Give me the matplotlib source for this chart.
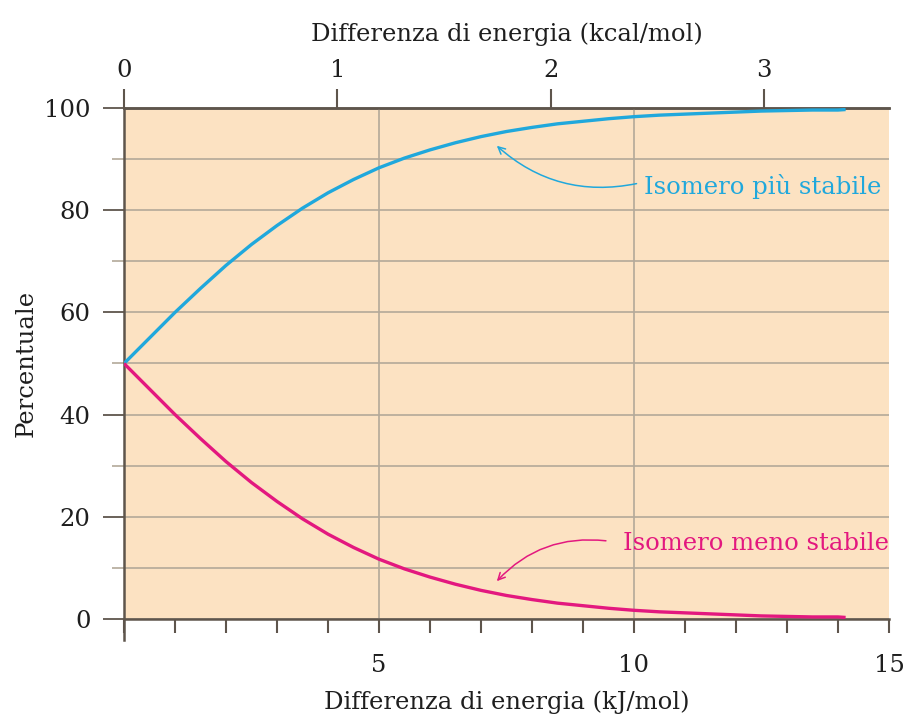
import matplotlib
matplotlib.use("Agg")
import matplotlib.pyplot as plt
from matplotlib.ticker import MultipleLocator, FuncFormatter

# energy difference (kJ/mol) and equilibrium percentages of the two isomers
delta_e = [0.0, 0.5, 1.0, 1.5, 2.0, 2.5, 3.0, 3.5, 4.0, 4.5, 5.0, 5.5, 6.0, 6.5,
           7.0, 7.5, 8.0, 8.5, 9.0, 9.5, 10.0, 10.5, 11.0, 11.5, 12.0, 12.5,
           13.0, 13.5, 14.0, 14.15]
more_stable = [50.0, 55.0, 60.0, 64.7, 69.2, 73.3, 77.0, 80.4, 83.4, 86.0, 88.3,
               90.2, 91.8, 93.2, 94.4, 95.4, 96.2, 96.9, 97.4, 97.9, 98.3, 98.6,
               98.8, 99.0, 99.2, 99.4, 99.5, 99.6, 99.6, 99.7]
less_stable = [50.0, 45.0, 40.0, 35.3, 30.8, 26.7, 23.0, 19.6, 16.6, 14.0, 11.7,
               9.8, 8.2, 6.8, 5.6, 4.6, 3.8, 3.1, 2.6, 2.1, 1.7, 1.4,
               1.2, 1.0, 0.8, 0.6, 0.5, 0.4, 0.4, 0.3]

kcal_ticks = [0, 1, 2, 3]
KJ_PER_KCAL = 4.184

BG = "#fce2c2"
GRID = "#b3a999"
SPINE = "#5e554c"
TEXT = "#1e1e1e"
BLUE = "#20a8dc"
PINK = "#e3187f"
FS = 17.5

plt.rcParams["font.family"] = ["DejaVu Serif"]

fig = plt.figure(figsize=(9.06, 7.18), dpi=100)
ax = fig.add_axes([0.1369, 0.1379, 0.8443, 0.7117])
ax.set_facecolor(BG)
ax.set_xlim(0, 15)
ax.set_ylim(0, 100)

# grid
ax.yaxis.set_major_locator(MultipleLocator(20))
ax.yaxis.set_minor_locator(MultipleLocator(10))
ax.set_axisbelow(True)
ax.grid(axis="y", which="both", color=GRID, lw=1.2)
for xv in (5, 10):
    ax.axvline(xv, color=GRID, lw=1.2, zorder=0.5)

ax.plot(delta_e, more_stable, color=BLUE, lw=2.4, solid_capstyle="butt", zorder=3)
ax.plot(delta_e, less_stable, color=PINK, lw=2.4, solid_capstyle="butt", zorder=3)

# spines
ax.spines["right"].set_visible(False)
for side in ("left", "bottom", "top"):
    ax.spines[side].set_color(SPINE)
    ax.spines[side].set_linewidth(1.8)
ax.spines["left"].set_bounds(-4.2, 100)

# bottom axis in kJ/mol
ax.xaxis.set_major_locator(MultipleLocator(1))
ax.xaxis.set_major_formatter(FuncFormatter(lambda v, p: f"{int(v)}" if v in (5, 10, 15) else ""))
ax.tick_params(axis="x", direction="out", length=10, width=1.5, color=SPINE,
               pad=15, labelsize=FS, labelcolor=TEXT)
ax.tick_params(axis="y", which="major", direction="out", length=15, width=1.3,
               color=SPINE, pad=9, labelsize=FS, labelcolor=TEXT)
ax.tick_params(axis="y", which="minor", direction="out", length=9, width=1.2, color=GRID)
ax.set_xlabel("Differenza di energia (kJ/mol)", fontsize=FS, color=TEXT, labelpad=10)
ax.set_ylabel("Percentuale", fontsize=FS, color=TEXT, labelpad=5)

# top axis in kcal/mol
top = ax.secondary_xaxis("top", functions=(lambda x: x / KJ_PER_KCAL, lambda x: x * KJ_PER_KCAL))
top.set_xticks(kcal_ticks)
top.tick_params(direction="out", length=14, width=1.5, color=SPINE, pad=5,
                labelsize=FS, labelcolor=TEXT)
top.spines["top"].set_color(SPINE)
top.spines["top"].set_linewidth(1.8)
top.set_xlabel("Differenza di energia (kcal/mol)", fontsize=FS, color=TEXT, labelpad=13)

# curve labels with curved arrows
ax.text(10.2, 84.7, "Isomero più stabile", fontsize=FS, color=BLUE, va="center", ha="left")
ax.annotate("", xy=(7.31, 92.6), xytext=(10.05, 85.2),
            arrowprops=dict(arrowstyle="->,head_length=0.5,head_width=0.25", color=BLUE,
                            lw=1.1, shrinkA=0, shrinkB=0,
                            connectionstyle="arc3,rad=-0.25"))
ax.text(9.78, 14.8, "Isomero meno stabile", fontsize=FS, color=PINK, va="center", ha="left")
ax.annotate("", xy=(7.31, 7.4), xytext=(9.45, 15.3),
            arrowprops=dict(arrowstyle="->,head_length=0.5,head_width=0.25", color=PINK,
                            lw=1.1, shrinkA=0, shrinkB=0,
                            connectionstyle="arc3,rad=0.25"))

fig.savefig("out.png", dpi=100)
